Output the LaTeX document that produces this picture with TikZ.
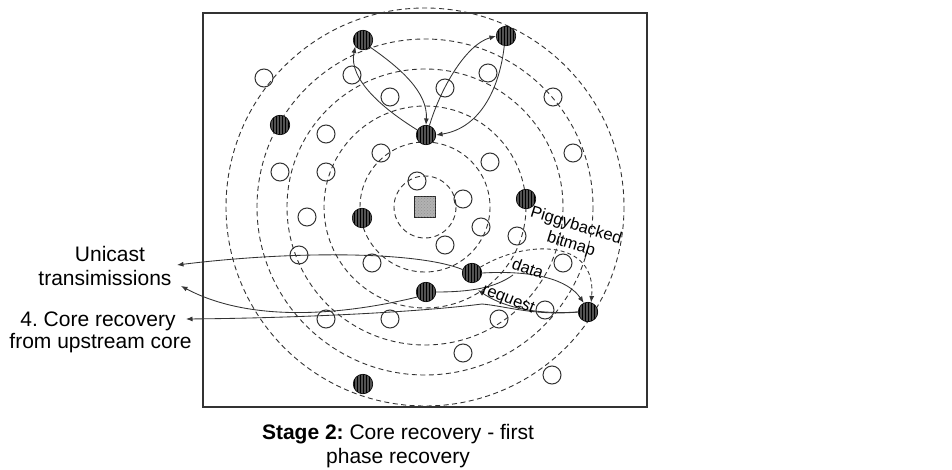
\documentclass[tikz,border=0pt]{standalone}
\usepackage{fontspec}
\setmainfont{Liberation Sans}
\usetikzlibrary{arrows.meta,patterns}
\pgfdeclarelayer{bg}
\pgfdeclarelayer{mid}
\pgfsetlayers{bg,mid,main}
\frenchspacing
\begin{document}
\begin{tikzpicture}[x=1pt,y=-1pt,
  ring/.style={draw=black!80,dash pattern=on 5pt off 3.5pt,line width=0.9pt},
  opennode/.style={circle,draw=black!80,line width=1pt,minimum size=18pt,inner sep=0pt},
  corenode/.style={circle,draw=black,line width=0.6pt,fill=black!68,minimum size=19.5pt,inner sep=0pt,
    postaction={pattern=vertical lines,pattern color=black}},
  srcbox/.style={rectangle,draw=black!85,line width=0.8pt,fill=gray!60,minimum size=21pt,inner sep=0pt,
    postaction={pattern=crosshatch dots,pattern color=gray!85}},
  link/.style={draw=black!80,line width=0.85pt},
  tip/.style={-{Latex[length=6.5pt,width=5pt]}},
  biglabel/.style={font=\fontsize{21}{25}\selectfont,inner sep=0pt,anchor=base},
  smalllabel/.style={font=\fontsize{16.5}{19}\selectfont,inner sep=0pt}
]
\useasboundingbox (0,0) rectangle (952,470);
\begin{pgfonlayer}{bg}
  \fill[white] (0,0) rectangle (952,470);
\end{pgfonlayer}

% frame
\draw[line width=1.3pt,black!80] (203,13) rectangle (647,407);

% source
\node[srcbox] (sq) at (425,207) {};

% core (filled) nodes
\node[corenode] (c1) at (363,40) {};
\node[corenode] (c2) at (506,36) {};
\node[corenode] (c3) at (280,125) {};
\node[corenode] (c4) at (426,135) {};
\node[corenode] (c5) at (526,199) {};
\node[corenode] (c6) at (362,218) {};
\node[corenode] (c7) at (472,273) {};
\node[corenode] (c8) at (426,292) {};
\node[corenode] (c9) at (588,312) {};
\node[corenode] (c10) at (363,384) {};

% open nodes
\foreach \n/\p in {o1/{(264,78)},o2/{(352,75)},o3/{(390,97)},o4/{(445,88)},o5/{(488,73)},
  o6/{(553,97)},o7/{(326,134)},o8/{(381,153)},o9/{(490,162)},o10/{(573,153)},
  o11/{(280,172)},o12/{(326,172)},o13/{(417,181)},o14/{(463,199)},o15/{(307,217)},
  o16/{(481,227)},o17/{(445,245)},o18/{(517,236)},o19/{(299,255)},o20/{(372,263)},
  o21/{(563,263)},o22/{(326,319)},o23/{(390,319)},o24/{(499,319)},o25/{(545,310)},
  o26/{(463,353)},o27/{(552,375)}}
  \node[opennode] (\n) at \p {};

% labels
\node[biglabel] (l1) at (110,261.5) {Unicast};
\node[biglabel] (l2) at (105,285) {transimissions};
\node[biglabel] (l3) at (98,326.5) {4. Core recovery};
\node[biglabel] (l4) at (100.5,348.5) {from upstream core};
\node[biglabel] (cap1) at (398,439) {\textbf{Stage 2:} Core recovery - first};
\node[biglabel] (cap2) at (398,463) {phase recovery};

\node[smalllabel,rotate=-17] (lpig) at (576,226) {Piggybacked};
\node[smalllabel,rotate=-17] (lbit) at (571,245) {bitmap};
\node[smalllabel,rotate=-20] (ldata) at (528,268) {data};
\node[smalllabel,rotate=-22] (lreq) at (508,300) {request};

% free ends
\coordinate (uc1) at (177,265);
\coordinate (uc2) at (181,286);
\coordinate (cr) at (186,319);
\coordinate (rq) at (478,290);
\coordinate (dj) at (513,275);
\coordinate (cj) at (482,304);

\begin{pgfonlayer}{mid}
  \foreach \r in {31,65,101,138,168,199}
    \draw[ring] (sq.center) circle[radius=\r];

  % top exchanges
  \draw[link,tip] (c1.-45) .. controls (400,68) and (428,92) .. (c4.north);
  \draw[link,tip] (c4.150) .. controls (385,110) and (348,80) .. (c1.-140);
  \draw[link,tip] (c4.70) .. controls (440,90) and (465,45) .. (c2.180);
  \draw[link,tip] (c2.-100) .. controls (500,85) and (482,128) .. (c4.east);

  % bottom exchanges
  \draw[link,tip] (c7.east) .. controls (535,270) and (568,280) .. (c9.115);
  \draw[link,tip,dash pattern=on 4pt off 3pt] (c7.35) .. controls (525,240) and (597,238) .. (c9.72);
  \draw[link,tip] (c9.west) .. controls (530,315) and (500,305) .. (rq);
  \draw[link] (c8.east) .. controls (470,292) and (495,288) .. (dj);

  % to the labels
  \draw[link,tip] (c7.160) .. controls (420,252) and (300,250) .. (uc1);
  \draw[link,tip] (c8.-150) .. controls (330,318) and (245,320) .. (uc2);
  \draw[link] (c9.west) .. controls (535,316) and (505,306) .. (cj);
  \draw[link,tip] (cj) .. controls (420,312) and (300,318) .. (cr);
\end{pgfonlayer}
\end{tikzpicture}
\end{document}
